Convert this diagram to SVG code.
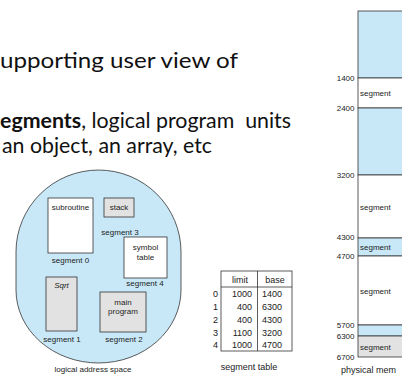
<svg xmlns="http://www.w3.org/2000/svg" width="402" height="375" viewBox="0 0 402 375">
<style>
.t{font-family:"Lato","Open Sans",sans-serif;font-size:21px;fill:#111}
.s{font-family:"Liberation Sans",Arial,sans-serif;font-size:8px;fill:#222}
.m{font-family:"Liberation Sans",Arial,sans-serif;font-size:9px;fill:#222}
.blue{fill:#c8e8f8;stroke:#333;stroke-width:0.8}
.white{fill:#ffffff;stroke:#333;stroke-width:0.8}
.gray{fill:#e2e2e2;stroke:#333;stroke-width:0.8}
.ln{stroke:#333;stroke-width:0.8;fill:none}
</style>
<rect width="402" height="375" fill="#ffffff"/>
<g id="heading">
<text class="t" x="0" y="68" textLength="238" lengthAdjust="spacingAndGlyphs">upporting user view of</text>
<text class="t" x="0" y="128" textLength="291" lengthAdjust="spacingAndGlyphs" style="white-space:pre"><tspan font-weight="bold">egments</tspan>, logical program  units</text>
<text class="t" x="2" y="153" textLength="210" lengthAdjust="spacingAndGlyphs">an object, an array, etc</text>
</g>
<g id="logical-space">
<path class="blue" d="M16,252 A82.5,82 0 0 1 181,252 L181,290 A82.5,73 0 0 1 16,290 Z"/>
<text class="s" x="93" y="372" text-anchor="middle" font-size="7.4">logical address space</text>
</g>
<g id="seg0">
<rect class="white" x="48" y="198" width="45" height="55"/>
<text class="s" x="70.5" y="210" text-anchor="middle">subroutine</text>
<text class="s" x="70.5" y="263" text-anchor="middle">segment 0</text>
</g>
<g id="seg3">
<rect class="gray" x="104" y="198" width="30" height="19"/>
<text class="s" x="119" y="210" text-anchor="middle">stack</text>
<text class="s" x="120" y="234.5" text-anchor="middle">segment 3</text>
</g>
<g id="seg4">
<rect class="white" x="124" y="237" width="43" height="41"/>
<text class="s" x="145.5" y="250" text-anchor="middle">symbol</text>
<text class="s" x="145.5" y="259.5" text-anchor="middle">table</text>
<text class="s" x="145" y="286" text-anchor="middle">segment 4</text>
</g>
<g id="seg1">
<rect class="gray" x="46" y="277" width="31" height="54"/>
<text class="s" x="61.5" y="288" text-anchor="middle" font-style="italic">Sqrt</text>
<text class="s" x="62" y="342" text-anchor="middle">segment 1</text>
</g>
<g id="seg2">
<rect class="gray" x="100" y="292" width="46" height="40"/>
<text class="s" x="123" y="304.5" text-anchor="middle">main</text>
<text class="s" x="123" y="314" text-anchor="middle">program</text>
<text class="s" x="124" y="342" text-anchor="middle">segment 2</text>
</g>
<g id="segment-table">
<rect x="221" y="271" width="71" height="80" fill="#fff" stroke="#333" stroke-width="0.8"/>
<line class="ln" x1="221" y1="287" x2="292" y2="287"/>
<line class="ln" x1="257.5" y1="271" x2="257.5" y2="351"/>
<text class="m" x="240" y="282.5" text-anchor="middle">limit</text>
<text class="m" x="275" y="282.5" text-anchor="middle">base</text>
<text class="m" x="215.5" y="297" text-anchor="middle">0</text>
<text class="m" x="215.5" y="309.5" text-anchor="middle">1</text>
<text class="m" x="215.5" y="322.5" text-anchor="middle">2</text>
<text class="m" x="215.5" y="335.5" text-anchor="middle">3</text>
<text class="m" x="215.5" y="348" text-anchor="middle">4</text>
<text class="m" x="252" y="297" text-anchor="end">1000</text>
<text class="m" x="252" y="309.5" text-anchor="end">400</text>
<text class="m" x="252" y="322.5" text-anchor="end">400</text>
<text class="m" x="252" y="335.5" text-anchor="end">1100</text>
<text class="m" x="252" y="348" text-anchor="end">1000</text>
<text class="m" x="262" y="297">1400</text>
<text class="m" x="262" y="309.5">6300</text>
<text class="m" x="262" y="322.5">4300</text>
<text class="m" x="262" y="335.5">3200</text>
<text class="m" x="262" y="348">4700</text>
<text class="m" x="249" y="370" text-anchor="middle">segment table</text>
</g>
<g id="physical-memory">
<rect class="blue" x="358" y="11" width="60" height="67"/>
<rect class="white" x="358" y="78" width="60" height="30"/>
<rect class="blue" x="358" y="108" width="60" height="67"/>
<rect class="white" x="358" y="175" width="60" height="63"/>
<rect class="blue" x="358" y="238" width="60" height="18"/>
<rect class="white" x="358" y="256" width="60" height="69"/>
<rect class="blue" x="358" y="325" width="60" height="11"/>
<rect class="gray" x="358" y="336" width="60" height="21"/>
<text class="s" x="360" y="96">segment</text>
<text class="s" x="360" y="209.5">segment</text>
<text class="s" x="360" y="250">segment</text>
<text class="s" x="360" y="293.5">segment</text>
<text class="s" x="360" y="350">segment</text>
<text class="s" x="354.5" y="80.5" text-anchor="end">1400</text>
<text class="s" x="354.5" y="110.5" text-anchor="end">2400</text>
<text class="s" x="354.5" y="177.5" text-anchor="end">3200</text>
<text class="s" x="354.5" y="240" text-anchor="end">4300</text>
<text class="s" x="354.5" y="259" text-anchor="end">4700</text>
<text class="s" x="354.5" y="327.5" text-anchor="end">5700</text>
<text class="s" x="354.5" y="338.5" text-anchor="end">6300</text>
<text class="s" x="354.5" y="359.5" text-anchor="end">6700</text>
<text class="m" x="341" y="372.5" font-size="9.2">physical mem</text>
</g>
</svg>
